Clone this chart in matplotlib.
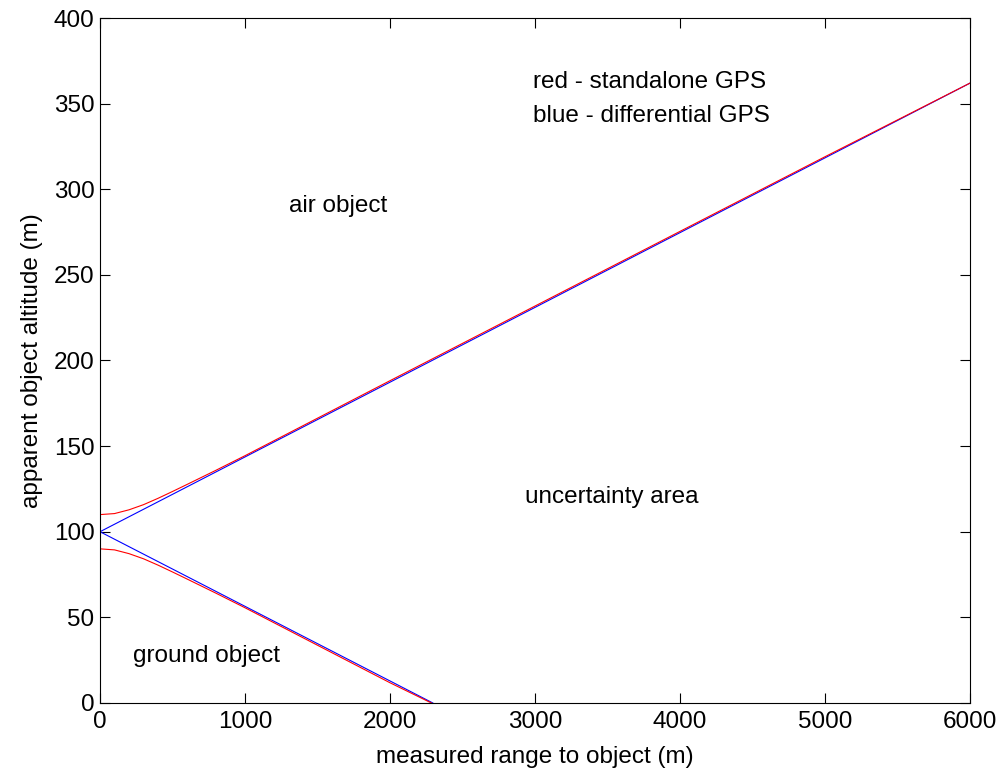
import matplotlib
matplotlib.use('Agg')
import matplotlib.pyplot as plt

# differential GPS (blue) boundaries
blue_up_x = [0, 6000]
blue_up_y = [100, 362]
blue_lo_x = [0, 2295]
blue_lo_y = [100, 0]

# standalone GPS (red) boundaries
red_up_x = [0, 100, 200, 300, 400, 500, 600, 800, 1000, 1500, 2000, 3000, 4000, 5000, 6000]
red_up_y = [110, 110.6, 112.8, 115.8, 119.5, 123.5, 127.6, 135.9, 144.4, 166.3, 188.2, 231.8, 275.4, 319.0, 362.0]
red_lo_x = [0, 100, 200, 300, 400, 500, 600, 800, 1000, 1500, 2000, 2285]
red_lo_y = [90, 89.4, 87.2, 84.2, 80.5, 76.5, 72.4, 64.1, 55.6, 33.7, 11.8, 0]

fs = 17.5
plt.rcParams['font.family'] = ['Liberation Sans', 'DejaVu Sans']
plt.rcParams['font.size'] = fs

fig = plt.figure(figsize=(10.02, 7.73), dpi=100)
ax = fig.add_axes([0.0998, 0.0906, 0.8683, 0.8861])

ax.plot(blue_up_x, blue_up_y, color='blue', lw=0.8)
ax.plot(blue_lo_x, blue_lo_y, color='blue', lw=0.8)
ax.plot(red_up_x, red_up_y, color='red', lw=0.8)
ax.plot(red_lo_x, red_lo_y, color='red', lw=0.8)

ax.set_xlim(0, 6000)
ax.set_ylim(0, 400)
ax.set_xticks(range(0, 6001, 1000))
ax.set_yticks(range(0, 401, 50))
ax.tick_params(direction='in', length=7, width=0.8, top=True, right=True, labelsize=fs)
ax.tick_params(axis='x', pad=6)
ax.tick_params(axis='y', pad=4)
for s in ax.spines.values():
    s.set_linewidth(0.8)

ax.set_xlabel('measured range to object (m)', fontsize=fs, labelpad=9)
ax.set_ylabel('apparent object altitude (m)', fontsize=fs, labelpad=8)

ax.text(2986, 362.5, 'red - standalone GPS', va='center', ha='left', fontsize=fs)
ax.text(2986, 343, 'blue - differential GPS', va='center', ha='left', fontsize=fs)
ax.text(1303, 290, 'air object', va='center', ha='left', fontsize=fs)
ax.text(2931, 120, 'uncertainty area', va='center', ha='left', fontsize=fs)
ax.text(228, 27.5, 'ground object', va='center', ha='left', fontsize=fs)

fig.savefig('out.png', dpi=100)
